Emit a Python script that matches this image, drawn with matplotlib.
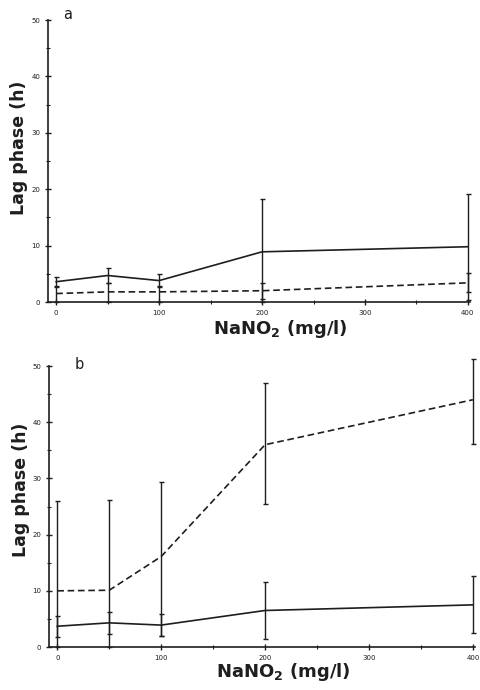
import matplotlib
matplotlib.use("Agg")
import matplotlib.pyplot as plt
import numpy as np
from matplotlib.ticker import MultipleLocator

# NaNO2 concentration (mg/l)
conc = [0, 50, 100, 200, 400]

# panel a
a_solid = [3.6, 4.7, 3.8, 8.9, 9.8]
a_solid_lo = [2.7, 3.3, 2.6, 0.0, 0.4]
a_solid_hi = [4.5, 6.1, 5.0, 18.2, 19.2]
a_dash = [1.5, 1.8, 1.8, 2.0, 3.4]
a_dash_lo = [0.0, 0.0, 0.0, 0.6, 1.8]
a_dash_hi = [2.8, 3.3, 2.8, 3.4, 5.1]

# panel b
b_solid = [3.7, 4.3, 3.9, 6.5, 7.5]
b_solid_lo = [1.7, 2.3, 2.0, 1.5, 2.5]
b_solid_hi = [5.6, 6.2, 5.9, 11.6, 12.6]
b_dash = [10.0, 10.1, 16.1, 36.0, 44.0]
b_dash_lo = [0.0, 0.0, 2.0, 25.4, 36.1]
b_dash_hi = [26.0, 26.1, 29.3, 46.9, 51.2]

ink = "#1e1e1e"

fig = plt.figure(figsize=(4.8, 6.9), dpi=100)
fig.patch.set_facecolor("white")

ax_a = fig.add_axes([0.100, 0.5623, 0.879, 0.4087])
ax_b = fig.add_axes([0.102, 0.0623, 0.8875, 0.4072])


def draw_series(ax, y, lo, hi, ls):
     y = np.array(y)
     err = [y - np.array(lo), np.array(hi) - y]
     if ls == "--":
          ax.plot(conc, y, color=ink, lw=1.2, dashes=(4, 2.2), clip_on=False)
     else:
          ax.plot(conc, y, color=ink, lw=1.2, clip_on=False)
     ax.errorbar(conc, y, yerr=err, fmt="none", ecolor=ink, elinewidth=1.0,
                 capsize=1.8, capthick=1.0, clip_on=False)


def style(ax, letter, letter_xy, ylab_xy, xlab_xy):
     ax.set_xlim(-8, 402)
     ax.set_ylim(0, 50)
     for s in ["top", "right"]:
          ax.spines[s].set_visible(False)
     for s in ["left", "bottom"]:
          ax.spines[s].set_color(ink)
          ax.spines[s].set_linewidth(1.2)
     ax.xaxis.set_major_locator(MultipleLocator(100))
     ax.xaxis.set_minor_locator(MultipleLocator(50))
     ax.yaxis.set_major_locator(MultipleLocator(10))
     ax.yaxis.set_minor_locator(MultipleLocator(5))
     ax.tick_params(axis="both", which="major", direction="inout", length=5,
                    width=1.0, colors=ink, labelsize=5, pad=3)
     ax.tick_params(axis="both", which="minor", direction="inout", length=2.5,
                    width=0.8, colors=ink)
     ax.set_ylabel("Lag phase (h)", fontsize=12.5, fontweight="bold", color=ink)
     ax.yaxis.set_label_coords(*ylab_xy)
     ax.set_xlabel("NaNO$_\\mathbf{2}$ (mg/l)", fontsize=13,
                   fontweight="bold", color=ink)
     ax.xaxis.set_label_coords(*xlab_xy)
     ax.text(letter_xy[0], letter_xy[1], letter, transform=ax.transAxes,
             fontsize=10.5, color=ink, ha="left", va="center")
     ax.set_facecolor("none")


draw_series(ax_a, a_solid, a_solid_lo, a_solid_hi, "-")
draw_series(ax_a, a_dash, a_dash_lo, a_dash_hi, "--")
style(ax_a, "a", (0.036, 1.018), (-0.047, 0.546), (0.55, -0.055))

draw_series(ax_b, b_solid, b_solid_lo, b_solid_hi, "-")
draw_series(ax_b, b_dash, b_dash_lo, b_dash_hi, "--")
style(ax_b, "b", (0.061, 1.004), (-0.044, 0.559), (0.55, -0.05))

fig.savefig("out.png", dpi=100)
